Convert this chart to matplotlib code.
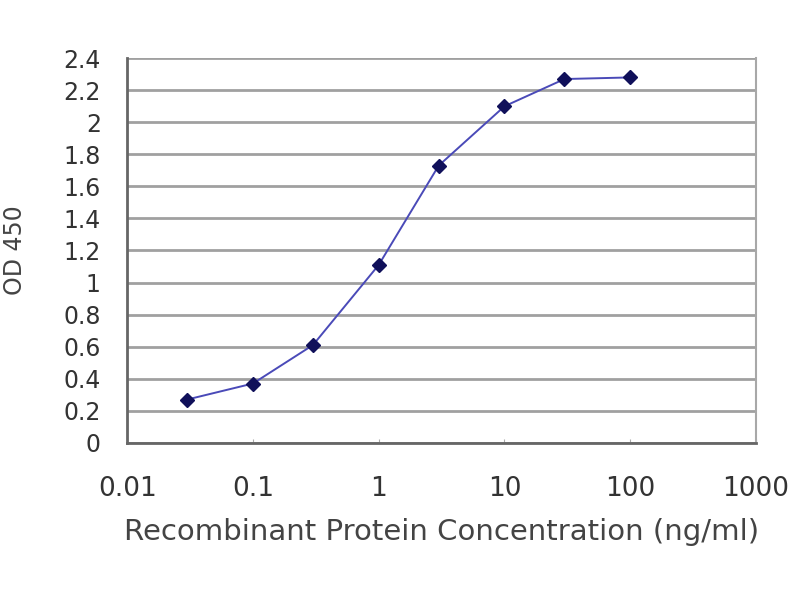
import matplotlib
matplotlib.use("Agg")
import matplotlib.pyplot as plt

# ELISA standard curve values
concentration = [0.03, 0.1, 0.3, 1, 3, 10, 30, 100]
od450 = [0.27, 0.37, 0.61, 1.11, 1.73, 2.10, 2.27, 2.28]
x_ticks = [0.01, 0.1, 1, 10, 100, 1000]
x_tick_labels = ["0.01", "0.1", "1", "10", "100", "1000"]
y_ticks = [0, 0.2, 0.4, 0.6, 0.8, 1, 1.2, 1.4, 1.6, 1.8, 2, 2.2, 2.4]
y_tick_labels = ["0", "0.2", "0.4", "0.6", "0.8", "1", "1.2", "1.4", "1.6", "1.8", "2", "2.2", "2.4"]

plt.rcParams["font.family"] = ["DejaVu Sans"]

fig = plt.figure(figsize=(8, 6), dpi=100)
ax = fig.add_axes([0.159, 0.262, 0.786, 0.641])

ax.plot(concentration, od450, color="#4a4ab8", linewidth=1.4, zorder=3)
ax.plot(concentration, od450, linestyle="none", marker="D", markersize=7.5,
        color="#10105a", zorder=4)

ax.set_xscale("log")
ax.set_xlim(0.01, 1000)
ax.set_ylim(0, 2.4)
ax.set_xticks(x_ticks)
ax.set_xticklabels(x_tick_labels)
ax.minorticks_off()
ax.set_yticks(y_ticks)
ax.set_yticklabels(y_tick_labels)

ax.yaxis.grid(True, color="#a0a0a0", linewidth=2)
ax.set_axisbelow(True)

for side in ["left", "bottom"]:
    ax.spines[side].set_color("#666666")
    ax.spines[side].set_linewidth(2)
ax.spines["right"].set_color("#a8a8a8")
ax.spines["right"].set_linewidth(1.5)
ax.spines["top"].set_visible(False)

ax.tick_params(axis="x", direction="in", length=3, color="#aaaaaa",
               labelsize=19, labelcolor="#333333", pad=24)
ax.tick_params(axis="y", length=0, labelsize=17, labelcolor="#333333", pad=19)

ax.set_xlabel("Recombinant Protein Concentration (ng/ml)", fontsize=21,
              color="#444444")
ax.xaxis.set_label_coords(0.5, -0.195)
ax.set_ylabel("OD 450", fontsize=17, color="#444444")
ax.yaxis.set_label_coords(-0.16, 0.5)

fig.savefig("out.png", dpi=100)
